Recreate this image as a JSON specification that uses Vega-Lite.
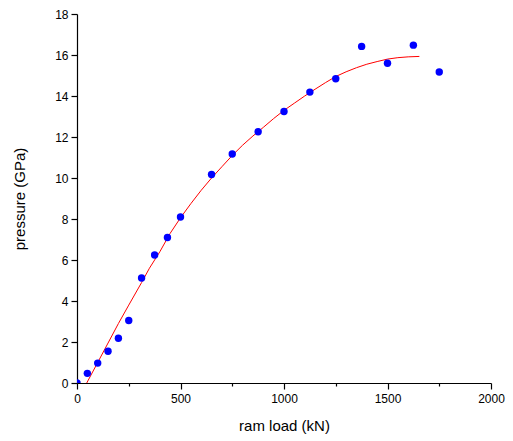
{
  "$schema": "https://vega.github.io/schema/vega-lite/v6.json",
  "width": 414,
  "height": 369,
  "autosize": {"type": "none"},
  "padding": {"left": 77, "top": 14, "right": 22, "bottom": 58},
  "background": "white",
  "config": {
    "view": {"stroke": null},
    "font": "Liberation Sans",
    "axis": {
      "domainColor": "black",
      "domainWidth": 1.2,
      "tickColor": "black",
      "tickWidth": 1.2,
      "labelColor": "black",
      "titleColor": "black",
      "labelFontSize": 12,
      "titleFontSize": 15,
      "titleFontWeight": "normal",
      "labelFont": "Liberation Sans",
      "titleFont": "Liberation Sans",
      "grid": false
    }
  },
  "datasets": {
    "obs": [
      {"load": 0, "pressure": 0},
      {"load": 50, "pressure": 0.47},
      {"load": 100, "pressure": 0.97},
      {"load": 150, "pressure": 1.55},
      {"load": 200, "pressure": 2.18},
      {"load": 250, "pressure": 3.05},
      {"load": 312, "pressure": 5.12},
      {"load": 375, "pressure": 6.24},
      {"load": 437, "pressure": 7.1},
      {"load": 500, "pressure": 8.1},
      {"load": 650, "pressure": 10.17},
      {"load": 750, "pressure": 11.17},
      {"load": 875, "pressure": 12.26},
      {"load": 1000, "pressure": 13.24},
      {"load": 1125, "pressure": 14.19},
      {"load": 1250, "pressure": 14.84},
      {"load": 1375, "pressure": 16.42},
      {"load": 1500, "pressure": 15.6},
      {"load": 1625, "pressure": 16.48},
      {"load": 1750, "pressure": 15.17}
    ],
    "fit": [
      {"load": 47, "pressure": 0},
      {"load": 100, "pressure": 1.0},
      {"load": 150, "pressure": 1.95},
      {"load": 200, "pressure": 2.9},
      {"load": 250, "pressure": 3.8},
      {"load": 312, "pressure": 4.9},
      {"load": 350, "pressure": 5.6},
      {"load": 400, "pressure": 6.4},
      {"load": 450, "pressure": 7.3},
      {"load": 500, "pressure": 8.06},
      {"load": 550, "pressure": 8.75},
      {"load": 600, "pressure": 9.4},
      {"load": 650, "pressure": 10.0},
      {"load": 700, "pressure": 10.55},
      {"load": 750, "pressure": 11.1},
      {"load": 800, "pressure": 11.6},
      {"load": 850, "pressure": 12.05},
      {"load": 900, "pressure": 12.47},
      {"load": 950, "pressure": 12.9},
      {"load": 1000, "pressure": 13.3},
      {"load": 1050, "pressure": 13.65},
      {"load": 1100, "pressure": 14.0},
      {"load": 1150, "pressure": 14.33},
      {"load": 1200, "pressure": 14.65},
      {"load": 1250, "pressure": 14.95},
      {"load": 1300, "pressure": 15.18},
      {"load": 1350, "pressure": 15.38},
      {"load": 1400, "pressure": 15.55},
      {"load": 1450, "pressure": 15.68},
      {"load": 1500, "pressure": 15.8},
      {"load": 1550, "pressure": 15.87},
      {"load": 1600, "pressure": 15.91},
      {"load": 1654, "pressure": 15.93}
    ]
  },
  "layer": [
    {
      "data": {"name": "fit"},
      "mark": {"type": "line", "color": "#ff0000", "strokeWidth": 1, "clip": true},
      "encoding": {
        "x": {
          "field": "load", "type": "quantitative",
          "scale": {"domain": [0, 2000], "nice": false, "zero": false},
          "axis": {
            "title": "ram load (kN)",
            "format": "d",
            "values": [0, 250, 500, 750, 1000, 1250, 1500, 1750, 2000],
            "labelExpr": "datum.value % 500 === 0 ? datum.label : ''",
            "tickSize": {"condition": {"test": "datum.value % 500 === 0", "value": 6}, "value": 3},
            "labelPadding": 4,
            "titlePadding": 14,
            "labelFlush": false,
            "labelOverlap": false
          }
        },
        "y": {
          "field": "pressure", "type": "quantitative",
          "scale": {"domain": [0, 18], "nice": false, "zero": false},
          "axis": {
            "title": "pressure (GPa)",
            "format": "d",
            "values": [0, 1, 2, 3, 4, 5, 6, 7, 8, 9, 10, 11, 12, 13, 14, 15, 16, 17, 18],
            "labelExpr": "datum.value % 2 === 0 ? datum.label : ''",
            "tickSize": {"condition": {"test": "datum.value % 2 === 0", "value": 6}, "value": 3},
            "labelPadding": 3,
            "titlePadding": 27,
            "labelFlush": false,
            "labelOverlap": false
          }
        }
      }
    },
    {
      "data": {"name": "obs"},
      "mark": {"type": "circle", "color": "#0000ff", "opacity": 1, "size": 55, "clip": true},
      "encoding": {
        "x": {"field": "load", "type": "quantitative"},
        "y": {"field": "pressure", "type": "quantitative"}
      }
    }
  ]
}
